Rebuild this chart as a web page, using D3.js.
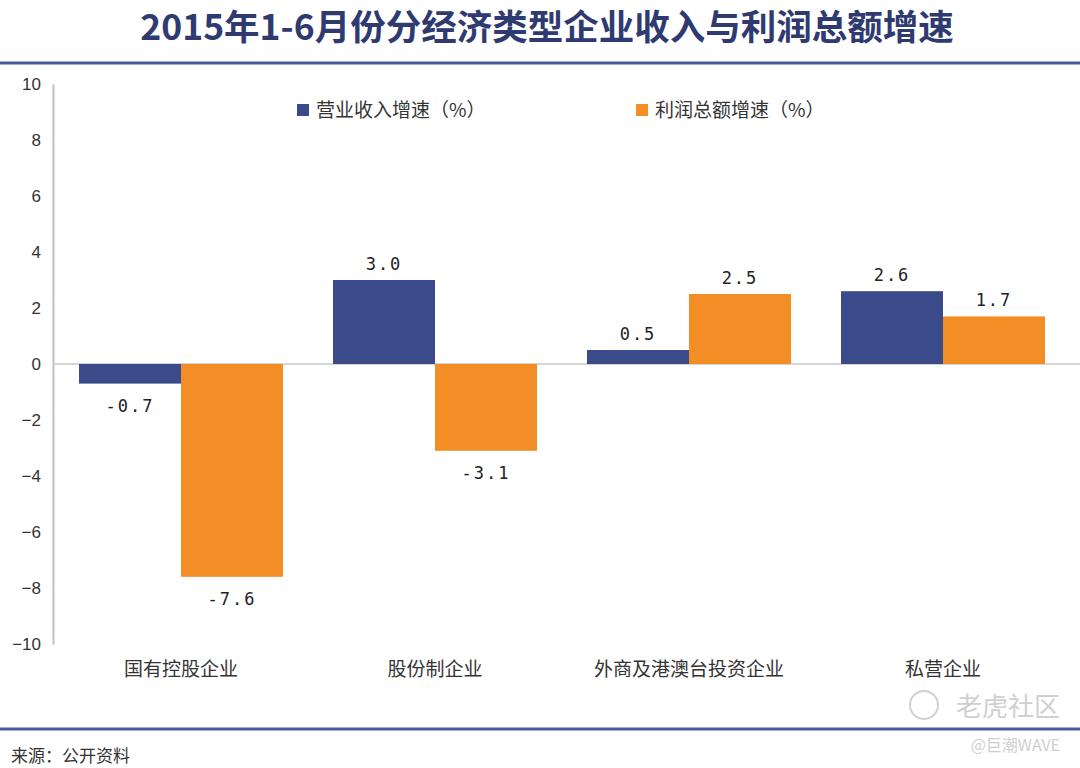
<!DOCTYPE html>
<html>
<head>
<meta charset="utf-8">
<script src="https://cdn.jsdelivr.net/npm/d3@7"></script>
<style>
  body { margin: 0; background: #fff; }
  svg { font-family: "Noto Sans CJK SC", "Noto Sans", sans-serif; }
</style>
</head>
<body>
<div id="chart"></div>
<script>
const categories = ["国有控股企业", "股份制企业", "外商及港澳台投资企业", "私营企业"];
const seriesNames = ["营业收入增速（%）", "利润总额增速（%）"];
const revenueGrowth = [-0.7, 3.0, 0.5, 2.6];
const profitGrowth = [-7.6, -3.1, 2.5, 1.7];
const yTicks = [10, 8, 6, 4, 2, 0, -2, -4, -6, -8, -10];

const colors = ["#3b4a8a", "#f28e25"];
const width = 1080, height = 768;

const svg = d3.select("#chart")
    .append("svg")
    .attr("width", width)
    .attr("height", height);

// title and frame lines
svg.append("text")
    .attr("x", 547)
    .attr("y", 40)
    .attr("text-anchor", "middle")
    .style("font-size", "35.5px")
    .style("font-weight", "bold")
    .style("fill", "#2f3b70")
    .text("2015年1-6月份分经济类型企业收入与利润总额增速");

svg.append("line")
    .attr("x1", 0).attr("x2", width)
    .attr("y1", 63).attr("y2", 63)
    .style("stroke", "#4b5a98")
    .style("stroke-width", 3);

svg.append("line")
    .attr("x1", 0).attr("x2", width)
    .attr("y1", 729).attr("y2", 729)
    .style("stroke", "#4b5a98")
    .style("stroke-width", 3);

svg.append("text")
    .attr("x", 11)
    .attr("y", 762)
    .style("font-size", "17px")
    .style("fill", "#333")
    .text("来源：公开资料");

// scales
const x0 = d3.scaleBand()
    .domain(categories)
    .range([54, 1070])
    .paddingInner(0.197)
    .paddingOuter(0.0985);

const x1 = d3.scaleBand()
    .domain([0, 1])
    .range([0, x0.bandwidth()]);

const y = d3.scaleLinear()
    .domain([-10, 10])
    .range([644, 84]);

// y axis
const yAxis = svg.append("g")
    .attr("transform", "translate(53,0)")
    .call(d3.axisLeft(y).tickValues(yTicks).tickSize(0).tickPadding(12).tickFormat(d => d < 0 ? "−" + Math.abs(d) : d));
yAxis.select(".domain").style("stroke", "#c0c0c0").style("stroke-width", 2);
yAxis.selectAll("text")
    .style("font-size", "17px")
    .style("fill", "#333")
    .style("font-family", "'Liberation Sans', Arial, sans-serif");

// zero line
svg.append("line")
    .attr("x1", 53).attr("x2", width)
    .attr("y1", y(0)).attr("y2", y(0))
    .style("stroke", "#c8c8c8")
    .style("stroke-width", 1.5);

const rows = categories.map((c, i) => ({cat: c, values: [revenueGrowth[i], profitGrowth[i]]}));

const groups = svg.selectAll("g.cat")
    .data(rows)
    .enter()
    .append("g")
    .attr("class", "cat")
    .attr("transform", d => `translate(${x0(d.cat)},0)`);

groups.selectAll("rect")
    .data(d => d.values.map((v, k) => ({k, v})))
    .enter()
    .append("rect")
    .attr("x", d => x1(d.k))
    .attr("y", d => y(Math.max(0, d.v)))
    .attr("width", x1.bandwidth())
    .attr("height", d => Math.abs(y(d.v) - y(0)))
    .style("fill", d => colors[d.k]);

groups.selectAll("text.val")
    .data(d => d.values.map((v, k) => ({k, v})))
    .enter()
    .append("text")
    .attr("class", "val")
    .attr("x", d => x1(d.k) + x1.bandwidth() / 2)
    .attr("y", d => d.v >= 0 ? y(d.v) - 10 : y(d.v) + 28)
    .attr("text-anchor", "middle")
    .style("font-size", "17px")
    .style("fill", "#222")
    .style("letter-spacing", "2px")
    .style("font-family", "'DejaVu Sans Mono', monospace")
    .text(d => d.v.toFixed(1));

// category labels
svg.selectAll("text.cat")
    .data(categories)
    .enter()
    .append("text")
    .attr("class", "cat")
    .attr("x", d => x0(d) + x0.bandwidth() / 2)
    .attr("y", 676)
    .attr("text-anchor", "middle")
    .style("font-size", "19px")
    .style("fill", "#333")
    .text(d => d);

// legend
const legendX = [297, 636];
const legend = svg.selectAll("g.legend")
    .data(seriesNames)
    .enter()
    .append("g")
    .attr("class", "legend")
    .attr("transform", (d, i) => `translate(${legendX[i]},104)`);

legend.append("rect")
    .attr("width", 12)
    .attr("height", 12)
    .style("fill", (d, i) => colors[i]);

legend.append("text")
    .attr("x", 19)
    .attr("y", 13)
    .style("font-size", "19px")
    .style("fill", "#333")
    .text(d => d);

// watermark
svg.append("text")
    .attr("x", 1060)
    .attr("y", 716)
    .attr("text-anchor", "end")
    .style("font-size", "26px")
    .style("fill", "#d0d0d0")
    .text("老虎社区");

svg.append("circle")
    .attr("cx", 924)
    .attr("cy", 705)
    .attr("r", 14)
    .style("fill", "none")
    .style("stroke", "#d0d0d0")
    .style("stroke-width", 2);

svg.append("text")
    .attr("x", 1060)
    .attr("y", 751)
    .attr("text-anchor", "end")
    .style("font-size", "16px")
    .style("fill", "#cfcfcf")
    .text("@巨潮WAVE");
</script>
</body>
</html>
